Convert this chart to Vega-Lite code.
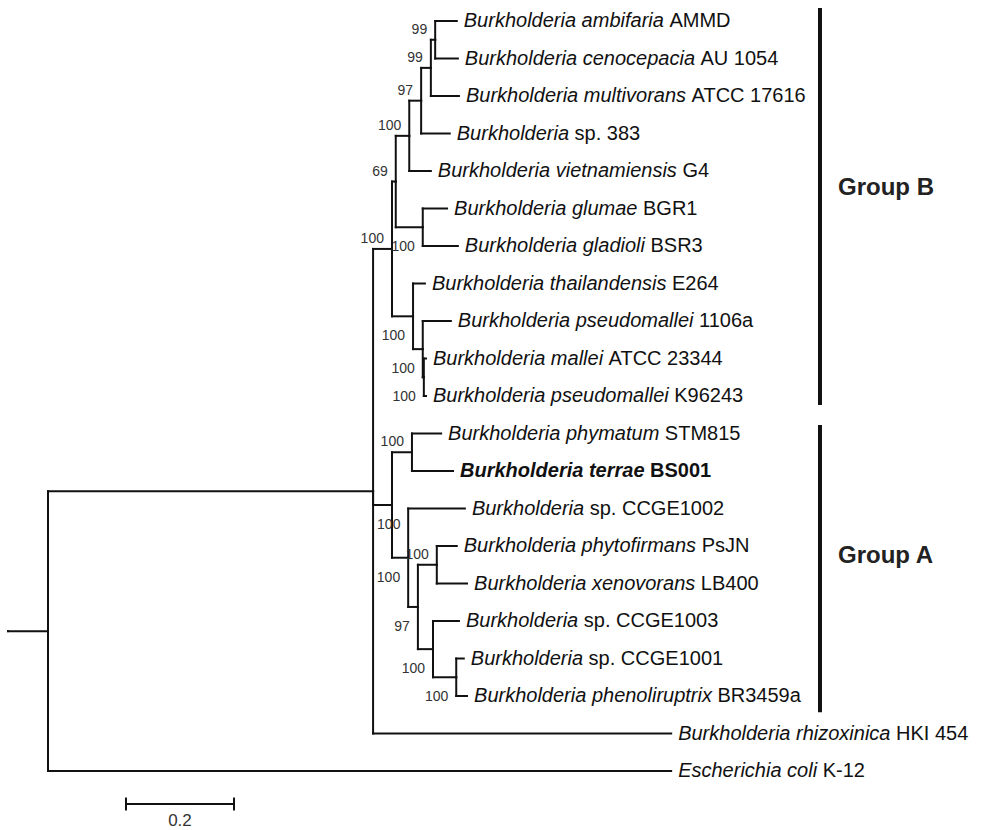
{
  "$schema": "https://vega.github.io/schema/vega-lite/v6.json",
  "width": 982,
  "height": 830,
  "autosize": "none",
  "padding": 0,
  "background": "white",
  "config": {"view": {"stroke": null}},
  "datasets": {
    "nodes": [
      {"id": "stub", "x": -0.074, "y": 17.27},
      {"id": "root", "parent": "stub", "x": 0, "y": 17.27},
      {"id": "coli", "parent": "root", "x": 1.154, "y": 21, "name": "Escherichia coli", "strain": "K-12"},
      {"id": "R", "parent": "root", "x": 0.602, "y": 13.539},
      {"id": "rhizoxinica", "parent": "R", "x": 1.154, "y": 20, "name": "Burkholderia rhizoxinica", "strain": "HKI 454"},
      {"id": "N7", "parent": "R", "x": 0.637, "y": 7.078, "support": 100, "side": "above"},
      {"id": "N5", "parent": "N7", "x": 0.644, "y": 5.281, "support": 69, "side": "above"},
      {"id": "N4", "parent": "N5", "x": 0.669, "y": 4.0625, "support": 100, "side": "above"},
      {"id": "N3", "parent": "N4", "x": 0.691, "y": 3.125, "support": 97, "side": "above"},
      {"id": "N2", "parent": "N3", "x": 0.709, "y": 2.25, "support": 99, "side": "above"},
      {"id": "N1", "parent": "N2", "x": 0.717, "y": 1.5, "support": 99, "side": "above"},
      {"id": "ambifaria", "parent": "N1", "x": 0.757, "y": 1, "name": "Burkholderia ambifaria", "strain": "AMMD"},
      {"id": "cenocepacia", "parent": "N1", "x": 0.759, "y": 2, "name": "Burkholderia cenocepacia", "strain": "AU 1054"},
      {"id": "multivorans", "parent": "N2", "x": 0.761, "y": 3, "name": "Burkholderia multivorans", "strain": "ATCC 17616"},
      {"id": "sp383", "parent": "N3", "x": 0.744, "y": 4, "name": "Burkholderia", "strain": "sp. 383"},
      {"id": "vietnamiensis", "parent": "N4", "x": 0.709, "y": 5, "name": "Burkholderia vietnamiensis", "strain": "G4"},
      {"id": "N6", "parent": "N5", "x": 0.694, "y": 6.5, "support": 100, "side": "below"},
      {"id": "glumae", "parent": "N6", "x": 0.739, "y": 6, "name": "Burkholderia glumae", "strain": "BGR1"},
      {"id": "gladioli", "parent": "N6", "x": 0.759, "y": 7, "name": "Burkholderia gladioli", "strain": "BSR3"},
      {"id": "N8", "parent": "N7", "x": 0.676, "y": 8.875, "support": 100, "side": "below"},
      {"id": "thailandensis", "parent": "N8", "x": 0.698, "y": 8, "name": "Burkholderia thailandensis", "strain": "E264"},
      {"id": "N9", "parent": "N8", "x": 0.694, "y": 9.75, "support": 100, "side": "below"},
      {"id": "pm1106a", "parent": "N9", "x": 0.746, "y": 9, "name": "Burkholderia pseudomallei", "strain": "1106a"},
      {"id": "N10", "parent": "N9", "x": 0.696, "y": 10.5, "support": 100, "side": "below"},
      {"id": "mallei", "parent": "N10", "x": 0.7, "y": 10, "name": "Burkholderia mallei", "strain": "ATCC 23344"},
      {"id": "pmK96243", "parent": "N10", "x": 0.7, "y": 11, "name": "Burkholderia pseudomallei", "strain": "K96243"},
      {"id": "N12", "parent": "R", "x": 0.637, "y": 13.906, "support": 100, "side": "branch"},
      {"id": "N13", "parent": "N12", "x": 0.674, "y": 12.5, "support": 100, "side": "above"},
      {"id": "phymatum", "parent": "N13", "x": 0.728, "y": 12, "name": "Burkholderia phymatum", "strain": "STM815"},
      {"id": "terrae", "parent": "N13", "x": 0.75, "y": 13, "name": "Burkholderia terrae", "strain": "BS001"},
      {"id": "N14", "parent": "N12", "x": 0.667, "y": 15.3125, "support": 100, "side": "below"},
      {"id": "CCGE1002", "parent": "N14", "x": 0.772, "y": 14, "name": "Burkholderia", "strain": "sp. CCGE1002"},
      {"id": "N15", "parent": "N14", "x": 0.685, "y": 16.625, "support": 97, "side": "below"},
      {"id": "N16", "parent": "N15", "x": 0.72, "y": 15.5, "support": 100, "side": "above"},
      {"id": "phytofirmans", "parent": "N16", "x": 0.757, "y": 15, "name": "Burkholderia phytofirmans", "strain": "PsJN"},
      {"id": "xenovorans", "parent": "N16", "x": 0.776, "y": 16, "name": "Burkholderia xenovorans", "strain": "LB400"},
      {"id": "N17", "parent": "N15", "x": 0.713, "y": 17.75, "support": 100, "side": "below"},
      {"id": "CCGE1003", "parent": "N17", "x": 0.761, "y": 17, "name": "Burkholderia", "strain": "sp. CCGE1003"},
      {"id": "N18", "parent": "N17", "x": 0.756, "y": 18.5, "support": 100, "side": "below"},
      {"id": "CCGE1001", "parent": "N18", "x": 0.77, "y": 18, "name": "Burkholderia", "strain": "sp. CCGE1001"},
      {"id": "phenoliruptrix", "parent": "N18", "x": 0.776, "y": 19, "name": "Burkholderia phenoliruptrix", "strain": "BR3459a"}
    ],
    "groups": [
      {"group": "Group B", "from": 0.65, "to": 11.24, "labelRow": 5.45},
      {"group": "Group A", "from": 11.77, "to": 19.43, "labelRow": 15.27}
    ],
    "scalebar": [
      {"x0": 0.1444, "x1": 0.3444, "len": 0.2}
    ]
  },
  "layer": [
    {
      "data": {"name": "nodes"},
      "transform": [
        {"filter": "isValid(datum.parent)"},
        {"lookup": "parent", "from": {"data": {"name": "nodes"}, "key": "id", "fields": ["x", "y"]}, "as": ["px", "py"]}
      ],
      "mark": {"type": "rule", "color": "#111", "strokeWidth": 2, "strokeCap": "square"},
      "encoding": {
        "x": {"field": "px", "type": "quantitative", "scale": {"domain": [-0.08889, 1.72963], "nice": false, "zero": false}, "axis": null},
        "x2": {"field": "x"},
        "y": {"field": "y", "type": "quantitative", "scale": {"domain": [0.44, 22.573], "nice": false, "zero": false, "reverse": true}, "axis": null}
      }
    },
    {
      "data": {"name": "nodes"},
      "transform": [
        {"filter": "isValid(datum.parent)"},
        {"lookup": "parent", "from": {"data": {"name": "nodes"}, "key": "id", "fields": ["x", "y"]}, "as": ["px", "py"]}
      ],
      "mark": {"type": "rule", "color": "#111", "strokeWidth": 2, "strokeCap": "square"},
      "encoding": {
        "x": {"field": "px", "type": "quantitative", "scale": {"domain": [-0.08889, 1.72963], "nice": false, "zero": false}, "axis": null},
        "y": {"field": "py", "type": "quantitative", "scale": {"domain": [0.44, 22.573], "nice": false, "zero": false, "reverse": true}, "axis": null},
        "y2": {"field": "y"}
      }
    },
    {
      "data": {"name": "nodes"},
      "transform": [{"filter": "isValid(datum.name) && datum.id !== 'terrae'"}],
      "mark": {"type": "text", "font": "Liberation Sans", "fontSize": 20, "fontStyle": "italic", "align": "left", "baseline": "middle", "dx": 7, "color": "#111"},
      "encoding": {
        "x": {"field": "x", "type": "quantitative", "scale": {"domain": [-0.08889, 1.72963], "nice": false, "zero": false}, "axis": null},
        "y": {"field": "y", "type": "quantitative", "scale": {"domain": [0.44, 22.573], "nice": false, "zero": false, "reverse": true}, "axis": null},
        "text": {"field": "name"}
      }
    },
    {
      "data": {"name": "nodes"},
      "transform": [{"filter": "isValid(datum.name) && datum.id !== 'terrae'"}],
      "mark": {
        "type": "text", "font": "Liberation Sans", "fontSize": 20, "align": "left", "baseline": "middle", "color": "#111",
        "dx": {"expr": "7 + 20 * (0.556 * length(datum.name) - 0.334 * (length(datum.name) - length(replace(datum.name, regexp('[ijl]', 'g'), ''))) - 0.278 * (length(datum.name) - length(replace(datum.name, regexp('[ft .]', 'g'), ''))) - 0.223 * (length(datum.name) - length(replace(datum.name, regexp('r', 'g'), ''))) - 0.056 * (length(datum.name) - length(replace(datum.name, regexp('[cksvxyz]', 'g'), ''))) + 0.166 * (length(datum.name) - length(replace(datum.name, regexp('w', 'g'), ''))) + 0.277 * (length(datum.name) - length(replace(datum.name, regexp('m', 'g'), ''))) + 0.111 * (length(datum.name) - length(replace(datum.name, regexp('[BE]', 'g'), ''))) + 0.278)"}
      },
      "encoding": {
        "x": {"field": "x", "type": "quantitative", "scale": {"domain": [-0.08889, 1.72963], "nice": false, "zero": false}, "axis": null},
        "y": {"field": "y", "type": "quantitative", "scale": {"domain": [0.44, 22.573], "nice": false, "zero": false, "reverse": true}, "axis": null},
        "text": {"field": "strain"}
      }
    },
    {
      "data": {"name": "nodes"},
      "transform": [{"filter": "datum.id === 'terrae'"}],
      "mark": {"type": "text", "font": "Liberation Sans", "fontSize": 20, "fontStyle": "italic", "fontWeight": "bold", "align": "left", "baseline": "middle", "dx": 7, "color": "#111"},
      "encoding": {
        "x": {"field": "x", "type": "quantitative", "scale": {"domain": [-0.08889, 1.72963], "nice": false, "zero": false}, "axis": null},
        "y": {"field": "y", "type": "quantitative", "scale": {"domain": [0.44, 22.573], "nice": false, "zero": false, "reverse": true}, "axis": null},
        "text": {"field": "name"}
      }
    },
    {
      "data": {"name": "nodes"},
      "transform": [{"filter": "datum.id === 'terrae'"}],
      "mark": {
        "type": "text", "font": "Liberation Sans", "fontSize": 20, "fontWeight": "bold", "align": "left", "baseline": "middle", "color": "#111",
        "dx": {"expr": "7 + 20 * (0.611 * length(datum.name) - 0.055 * (length(datum.name) - length(replace(datum.name, regexp('[acekvsxy]', 'g'), ''))) - 0.111 * (length(datum.name) - length(replace(datum.name, regexp('z', 'g'), ''))) - 0.333 * (length(datum.name) - length(replace(datum.name, regexp('[ijl .]', 'g'), ''))) - 0.278 * (length(datum.name) - length(replace(datum.name, regexp('[ft]', 'g'), ''))) - 0.222 * (length(datum.name) - length(replace(datum.name, regexp('r', 'g'), ''))) + 0.278 * (length(datum.name) - length(replace(datum.name, regexp('m', 'g'), ''))) + 0.111 * (length(datum.name) - length(replace(datum.name, regexp('B', 'g'), ''))) + 0.278)"}
      },
      "encoding": {
        "x": {"field": "x", "type": "quantitative", "scale": {"domain": [-0.08889, 1.72963], "nice": false, "zero": false}, "axis": null},
        "y": {"field": "y", "type": "quantitative", "scale": {"domain": [0.44, 22.573], "nice": false, "zero": false, "reverse": true}, "axis": null},
        "text": {"field": "strain"}
      }
    },
    {
      "data": {"name": "nodes"},
      "transform": [
        {"filter": "isValid(datum.support)"},
        {"lookup": "parent", "from": {"data": {"name": "nodes"}, "key": "id", "fields": ["x"]}, "as": ["px"]}
      ],
      "mark": {
        "type": "text", "font": "Liberation Sans", "fontSize": 14, "baseline": "middle", "color": "#333",
        "align": {"expr": "datum.side === 'branch' ? 'left' : 'right'"},
        "dx": {"expr": "datum.side === 'branch' ? scale('x', datum.px) - scale('x', datum.x) + 4 : -8"},
        "dy": {"expr": "datum.side === 'above' ? -10 : 20"}
      },
      "encoding": {
        "x": {"field": "x", "type": "quantitative", "scale": {"domain": [-0.08889, 1.72963], "nice": false, "zero": false}, "axis": null},
        "y": {"field": "y", "type": "quantitative", "scale": {"domain": [0.44, 22.573], "nice": false, "zero": false, "reverse": true}, "axis": null},
        "text": {"field": "support"}
      }
    },
    {
      "data": {"name": "groups"},
      "mark": {"type": "rule", "color": "#111", "strokeWidth": 4},
      "encoding": {
        "x": {"datum": 1.4296, "type": "quantitative", "scale": {"domain": [-0.08889, 1.72963], "nice": false, "zero": false}, "axis": null},
        "y": {"field": "from", "type": "quantitative", "scale": {"domain": [0.44, 22.573], "nice": false, "zero": false, "reverse": true}, "axis": null},
        "y2": {"field": "to"}
      }
    },
    {
      "data": {"name": "groups"},
      "mark": {"type": "text", "font": "Liberation Sans", "fontSize": 24, "fontWeight": "bold", "align": "left", "baseline": "middle", "dx": 18, "color": "#222"},
      "encoding": {
        "x": {"datum": 1.4296, "type": "quantitative", "scale": {"domain": [-0.08889, 1.72963], "nice": false, "zero": false}, "axis": null},
        "y": {"field": "labelRow", "type": "quantitative", "scale": {"domain": [0.44, 22.573], "nice": false, "zero": false, "reverse": true}, "axis": null},
        "text": {"field": "group"}
      }
    },
    {
      "data": {"name": "scalebar"},
      "mark": {"type": "rule", "color": "#111", "strokeWidth": 2},
      "encoding": {
        "x": {"field": "x0", "type": "quantitative", "scale": {"domain": [-0.08889, 1.72963], "nice": false, "zero": false}, "axis": null},
        "x2": {"field": "x1"},
        "y": {"datum": 21.88, "type": "quantitative", "scale": {"domain": [0.44, 22.573], "nice": false, "zero": false, "reverse": true}, "axis": null}
      }
    },
    {
      "data": {"name": "scalebar"},
      "mark": {"type": "rule", "color": "#111", "strokeWidth": 2},
      "encoding": {
        "x": {"field": "x0", "type": "quantitative", "scale": {"domain": [-0.08889, 1.72963], "nice": false, "zero": false}, "axis": null},
        "y": {"datum": 21.707, "type": "quantitative", "scale": {"domain": [0.44, 22.573], "nice": false, "zero": false, "reverse": true}, "axis": null},
        "y2": {"datum": 22.053}
      }
    },
    {
      "data": {"name": "scalebar"},
      "mark": {"type": "rule", "color": "#111", "strokeWidth": 2},
      "encoding": {
        "x": {"field": "x1", "type": "quantitative", "scale": {"domain": [-0.08889, 1.72963], "nice": false, "zero": false}, "axis": null},
        "y": {"datum": 21.707, "type": "quantitative", "scale": {"domain": [0.44, 22.573], "nice": false, "zero": false, "reverse": true}, "axis": null},
        "y2": {"datum": 22.053}
      }
    },
    {
      "data": {"name": "scalebar"},
      "transform": [{"calculate": "(datum.x0 + datum.x1) / 2", "as": "mid"}],
      "mark": {"type": "text", "font": "Liberation Sans", "fontSize": 17, "align": "center", "baseline": "middle", "dy": 17, "color": "#333"},
      "encoding": {
        "x": {"field": "mid", "type": "quantitative", "scale": {"domain": [-0.08889, 1.72963], "nice": false, "zero": false}, "axis": null},
        "y": {"datum": 21.88, "type": "quantitative", "scale": {"domain": [0.44, 22.573], "nice": false, "zero": false, "reverse": true}, "axis": null},
        "text": {"field": "len", "format": ".1f"}
      }
    }
  ]
}
